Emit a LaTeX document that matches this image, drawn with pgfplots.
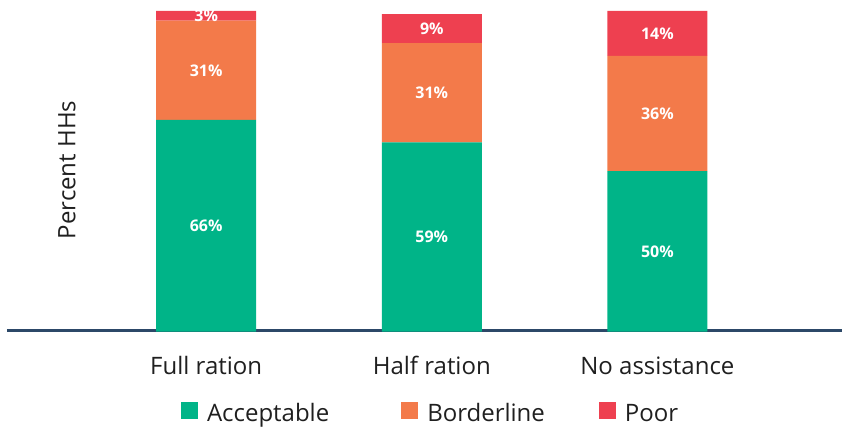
\documentclass[border=0pt]{standalone}
\usepackage{fontspec}
\setmainfont{Open Sans}
\usepackage{pgfplots}
\pgfplotsset{compat=1.18}
\definecolor{accgreen}{HTML}{00B488}
\definecolor{bordorange}{HTML}{F37A4A}
\definecolor{poorred}{HTML}{EE4050}
\definecolor{axisblue}{HTML}{2C4868}
\definecolor{txt}{HTML}{1F1F1F}
\pgfplotsset{
  sq legend/.style={legend image code/.code={\fill[##1, draw=none] (0bp,-5bp) rectangle (17bp,12bp);}},
}
\begin{document}
\begin{tikzpicture}
\begin{axis}[
  at={(0,0)}, anchor=origin,
  x=225.6bp, y=3.205bp,
  xmin=-0.883, xmax=2.818, ymin=0, ymax=100,
  ybar stacked, bar width=100bp,
  axis x line=bottom, axis y line=none,
  x axis line style={-, line width=2.5bp, draw=axisblue, yshift=1bp},
  xtick={0,1,2}, xticklabels={Full ration, Half ration, No assistance},
  major tick length=0pt,
  xticklabel style={anchor=base, yshift=-42.5bp, inner sep=0pt, font=\fontsize{24bp}{29bp}\selectfont, text=txt},
  ytick=\empty,
  clip=false,
  point meta=explicit,
  nodes near coords={\pgfmathprintnumber{\pgfplotspointmeta}\%},
  every node near coord/.append style={font=\fontsize{16bp}{19bp}\selectfont\bfseries, text=white, anchor=center},
  /pgf/number format/assume math mode=true,
  legend columns=3,
  legend style={draw=none, fill=none, inner sep=0pt, outer sep=0pt,
    at={(0.2084,-0.2527)}, anchor=west,
    font=\fontsize{24bp}{29bp}\selectfont, text=txt,
    nodes={inner sep=0pt},
    /tikz/every odd column/.style={column sep=9bp},
    /tikz/column 2/.style={column sep=72bp},
    /tikz/column 4/.style={column sep=54bp}},
]
\addplot[fill=accgreen, draw=none, sq legend] coordinates {(0,66) [66] (1,59) [59] (2,50) [50]};
\addlegendentry{Acceptable}
\addplot[fill=bordorange, draw=none, sq legend] coordinates {(0,31) [31] (1,31) [31] (2,36) [36]};
\addlegendentry{Borderline}
\addplot[fill=poorred, draw=none, sq legend] coordinates {(0,3) [3] (1,9) [9] (2,14) [14]};
\addlegendentry{Poor}
\node[rotate=90, font=\fontsize{24bp}{29bp}\selectfont, text=txt] at (axis cs:-0.617,50.4) {Percent HHs};
\end{axis}
\pgfresetboundingbox
\useasboundingbox (-206.2bp,-95.5bp) rectangle (635.8bp,331.5bp);
\end{tikzpicture}
\end{document}
